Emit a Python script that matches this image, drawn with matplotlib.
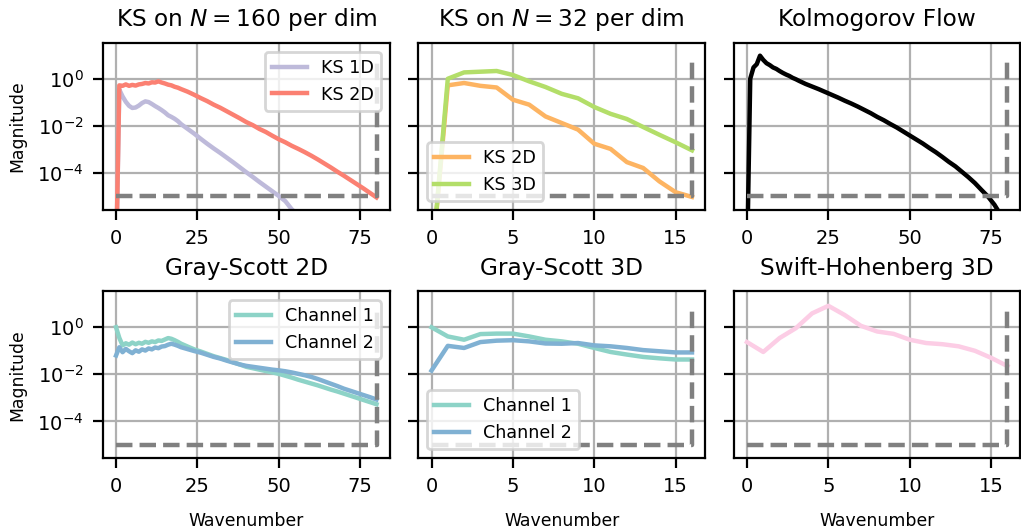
import matplotlib
matplotlib.use("Agg")
import matplotlib.pyplot as plt
import numpy as np
from matplotlib.ticker import NullLocator

# magnitudes, stored as log10 values
ks160_x = [0, 1, 2, 3, 4, 5, 6, 7, 8, 9, 10, 11, 12, 13, 14, 15, 16, 17, 18, 19, 20,
           22, 24, 26, 28, 30, 32, 34, 36, 38, 40, 42, 44, 46, 48, 50, 52, 54, 56, 58,
           60, 62, 64, 66, 68, 70, 72, 74, 76, 78, 80]
ks1d_log = [-8, -0.46, -0.75, -0.98, -1.15, -1.24, -1.22, -1.14, -1.03, -0.96, -0.99,
            -1.07, -1.16, -1.24, -1.33, -1.43, -1.55, -1.62, -1.70, -1.80, -1.93,
            -2.13, -2.33, -2.55, -2.76, -2.96, -3.15, -3.35, -3.55, -3.76, -3.97, -4.17,
            -4.38, -4.58, -4.78, -4.98, -5.20, -5.55, -5.80, -6.0, -6.2, -6.4, -6.6,
            -6.8, -7.0, -7.2, -7.4, -7.6, -7.8, -8.0, -8.2]
ks2d_log = [-8, -0.28, -0.30, -0.24, -0.30, -0.26, -0.29, -0.24, -0.22, -0.18, -0.20,
            -0.15, -0.16, -0.11, -0.16, -0.20, -0.25, -0.28, -0.34, -0.38, -0.44,
            -0.55, -0.68, -0.82, -0.95, -1.10, -1.23, -1.38, -1.53, -1.68, -1.84, -1.97,
            -2.13, -2.26, -2.42, -2.57, -2.70, -2.85, -2.98, -3.12, -3.27, -3.43, -3.60,
            -3.77, -3.95, -4.12, -4.30, -4.48, -4.66, -4.85, -5.04]

ks32_x = list(range(17))
ks32_2d_log = [-8, -0.28, -0.18, -0.30, -0.37, -0.89, -1.10, -1.60, -1.88, -2.16, -2.76,
               -2.98, -3.54, -3.79, -4.36, -4.82, -5.02]
ks32_3d_log = [-8, 0.0, 0.27, 0.30, 0.33, 0.16, -0.11, -0.35, -0.64, -0.83, -1.20,
               -1.49, -1.71, -2.05, -2.38, -2.70, -3.04]

kolmo_x = [0, 1, 2, 3, 4, 5, 6, 7, 8, 9, 10, 11, 12, 13, 14, 15, 16, 18, 20, 22, 24, 26,
           28, 30, 32, 34, 36, 38, 40, 42, 44, 46, 48, 50, 52, 54, 56, 58, 60, 62, 64,
           66, 68, 70, 72, 74, 76, 78, 80]
kolmo_log = [-8, 0.0, 0.48, 0.62, 0.98, 0.80, 0.66, 0.58, 0.48, 0.42, 0.33, 0.25, 0.18,
             0.12, 0.04, -0.02, -0.09, -0.22, -0.33, -0.44, -0.56, -0.68, -0.80, -0.93,
             -1.05, -1.18, -1.32, -1.46, -1.62, -1.76, -1.92, -2.07, -2.24, -2.41, -2.58,
             -2.75, -2.94, -3.12, -3.32, -3.53, -3.72, -3.95, -4.18, -4.43, -4.72, -5.0,
             -5.35, -5.8, -6.5]

gs2d_x = ks160_x
gs2d_ch1_log = [0.0, -0.45, -0.77, -0.68, -0.74, -0.65, -0.72, -0.66, -0.70, -0.62, -0.66,
                -0.60, -0.63, -0.56, -0.58, -0.52, -0.46, -0.49, -0.55, -0.62, -0.70,
                -0.82, -0.94, -1.03, -1.13, -1.23, -1.31, -1.39, -1.49, -1.58, -1.68,
                -1.74, -1.80, -1.86, -1.92, -1.98, -2.06, -2.14, -2.23, -2.31, -2.39,
                -2.47, -2.56, -2.65, -2.73, -2.82, -2.91, -3.00, -3.09, -3.18, -3.27]
gs2d_ch2_log = [-1.20, -0.85, -1.06, -0.92, -1.02, -1.10, -0.98, -1.04, -0.94, -0.99, -0.90,
                -0.94, -0.86, -0.89, -0.82, -0.80, -0.74, -0.70, -0.74, -0.79, -0.85,
                -0.93, -1.01, -1.08, -1.17, -1.26, -1.33, -1.42, -1.50, -1.58, -1.64,
                -1.68, -1.72, -1.76, -1.80, -1.83, -1.87, -1.92, -1.98, -2.04, -2.11,
                -2.20, -2.30, -2.40, -2.50, -2.61, -2.70, -2.79, -2.88, -2.97, -3.07]

gs3d_x = list(range(17))
gs3d_ch1_log = [0.0, -0.39, -0.53, -0.29, -0.27, -0.27, -0.39, -0.53, -0.60, -0.70, -0.88,
                -1.05, -1.16, -1.26, -1.32, -1.37, -1.37]
gs3d_ch2_log = [-1.84, -0.79, -0.88, -0.63, -0.57, -0.55, -0.60, -0.69, -0.70, -0.67, -0.77,
                -0.81, -0.88, -0.97, -1.02, -1.07, -1.07]

sh_x = list(range(17))
sh_log = [-0.63, -1.05, -0.46, -0.04, 0.59, 0.91, 0.52, 0.06, -0.18, -0.28, -0.53, -0.67,
          -0.72, -0.81, -1.00, -1.30, -1.65]

plt.rcParams['font.size'] = 7
plt.rcParams['axes.labelsize'] = 6.2
plt.rcParams['legend.fontsize'] = 6.3

fig, axes = plt.subplots(2, 3, figsize=(5.105, 2.655), dpi=200, sharey=True)
fig.subplots_adjust(left=0.1009, right=0.9995, top=0.919, bottom=0.1375,
                    wspace=0.101, hspace=0.4925)

def mag(vals):
    return 10.0 ** np.array(vals)

def cutoff(ax, kmax):
    # resolution box: noise floor and Nyquist wavenumber
    ax.plot([0, kmax, kmax], [1e-5, 1e-5, 5], color='gray', lw=1.6, ls='--')

lw = 1.6

ax = axes[0, 0]
ax.plot(ks160_x, mag(ks1d_log), color='#bebada', lw=lw, label='KS 1D')
ax.plot(ks160_x, mag(ks2d_log), color='#fb8072', lw=lw, label='KS 2D')
cutoff(ax, 80)
ax.set_title('KS on $N = 160$ per dim')
ax.legend(loc='upper right')

ax = axes[0, 1]
ax.plot(ks32_x, mag(ks32_2d_log), color='#fdb462', lw=lw, label='KS 2D')
ax.plot(ks32_x, mag(ks32_3d_log), color='#b3de69', lw=lw, label='KS 3D')
cutoff(ax, 16)
ax.set_title('KS on $N = 32$ per dim')
ax.legend(loc='lower left')

ax = axes[0, 2]
ax.plot(kolmo_x, mag(kolmo_log), color='black', lw=lw)
cutoff(ax, 80)
ax.set_title('Kolmogorov Flow')

ax = axes[1, 0]
ax.plot(gs2d_x, mag(gs2d_ch1_log), color='#8dd3c7', lw=lw, label='Channel 1')
ax.plot(gs2d_x, mag(gs2d_ch2_log), color='#80b1d3', lw=lw, label='Channel 2')
cutoff(ax, 80)
ax.set_title('Gray-Scott 2D')
ax.legend(loc='upper right')

ax = axes[1, 1]
ax.plot(gs3d_x, mag(gs3d_ch1_log), color='#8dd3c7', lw=lw, label='Channel 1')
ax.plot(gs3d_x, mag(gs3d_ch2_log), color='#80b1d3', lw=lw, label='Channel 2')
cutoff(ax, 16)
ax.set_title('Gray-Scott 3D')
ax.legend(loc='lower left')

ax = axes[1, 2]
ax.plot(sh_x, mag(sh_log), color='#fccde5', lw=lw)
cutoff(ax, 16)
ax.set_title('Swift-Hohenberg 3D')

for i, row in enumerate(axes):
    for j, ax in enumerate(row):
        ax.set_yscale('log')
        ax.grid(True)
        kmax = 80 if j == 0 or (i == 0 and j == 2) else 16
        ax.set_xlim(-0.05 * kmax, 1.05 * kmax)
        if kmax == 80:
            ax.set_xticks([0, 25, 50, 75])
        else:
            ax.set_xticks([0, 5, 10, 15])
        if i == 1:
            ax.set_xlabel('Wavenumber', labelpad=5.5)
    row[0].set_ylabel('Magnitude')

axes[0, 0].set_ylim(2.8e-6, 33)
axes[0, 0].set_yticks([1e-4, 1e-2, 1e0])
for ax in axes.flat:
    ax.yaxis.set_minor_locator(NullLocator())

fig.savefig('out.png', dpi=200)
